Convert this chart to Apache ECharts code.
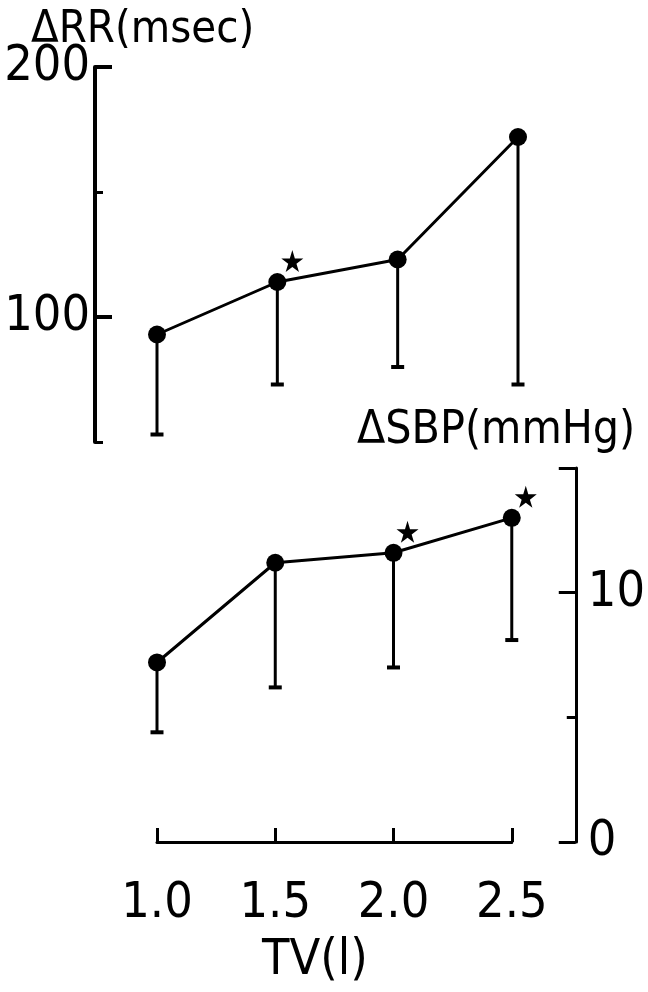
<!DOCTYPE html>
<html>
<head>
<meta charset="utf-8">
<script src="https://cdn.jsdelivr.net/npm/echarts@6/dist/echarts.min.js"></script>
<style>
  html, body { margin: 0; padding: 0; background: #fff; }
  #chart { width: 648px; height: 992px; }
</style>
</head>
<body>
<div id="chart"></div>
<script>
// Tidal volume steps (litres)
var tidalVolume = [1.0, 1.5, 2.0, 2.5];
var tvTickLabels = ['1.0', '1.5', '2.0', '2.5'];

// ΔRR interval (msec): mean and lower end of the error bar
var rrMean = [93, 114, 123, 172];
var rrLower = [53, 73, 80, 73];
var rrSignificant = [false, true, false, false];

// ΔSBP (mmHg): mean and lower end of the error bar
var sbpMean = [7.2, 11.2, 11.6, 13.0];
var sbpLower = [4.4, 6.2, 7.0, 8.1];
var sbpSignificant = [false, false, true, true];

// Axis tick values
var rrLabelTicks = [100, 200];
var rrMinorTicks = [50, 150];
var sbpLabelTicks = [0, 10];
var sbpMajorTicks = [0, 10, 15];
var sbpMinorTicks = [5];

var INK = '#000';
var FONT = '"Liberation Sans Narrow", "DejaVu Sans Condensed", "Liberation Sans", sans-serif';

function pairs(xs, ys) {
  return xs.map(function (x, i) { return [x, ys[i]]; });
}
function triples(xs, a, b) {
  return xs.map(function (x, i) { return [x, a[i], b[i]]; });
}
function flagged(xs, ys, flags) {
  var out = [];
  xs.forEach(function (x, i) { if (flags[i]) out.push([x, ys[i]]); });
  return out;
}

// One-sided (downward) error bar with a short cap
function renderErrorBar(params, api) {
  var top = api.coord([api.value(0), api.value(1)]);
  var bottom = api.coord([api.value(0), api.value(2)]);
  var half = 6.5;
  return {
    type: 'group',
    children: [
      { type: 'line', shape: { x1: top[0], y1: top[1], x2: bottom[0], y2: bottom[1] }, style: { stroke: INK, lineWidth: 3 } },
      { type: 'line', shape: { x1: bottom[0] - half, y1: bottom[1], x2: bottom[0] + half, y2: bottom[1] }, style: { stroke: INK, lineWidth: 4 } }
    ]
  };
}

var STAR = 'path://M50,0 L61,35 L98,35 L68,57 L79,91 L50,70 L21,91 L32,57 L2,35 L39,35 Z';

var labelStyle = { color: INK, fontSize: 50, fontFamily: FONT };

var option = {
  backgroundColor: '#fff',
  animation: false,
  grid: [
    { left: 157, right: 130, top: 67, bottom: 550 },
    { left: 157, right: 130, top: 468, bottom: 150 }
  ],
  xAxis: [
    { type: 'value', gridIndex: 0, min: 1.0, max: 2.5, interval: 0.5, show: false },
    {
      type: 'value', gridIndex: 1, min: 1.0, max: 2.5, interval: 0.5,
      position: 'bottom', offset: 31,
      axisLine: { show: true, lineStyle: { color: INK, width: 3 } },
      axisTick: { show: true, inside: true, length: 14, lineStyle: { color: INK, width: 3 } },
      axisLabel: Object.assign({
        margin: 6,
        formatter: function (v) {
          var i = tidalVolume.indexOf(v);
          return i >= 0 ? tvTickLabels[i] : '';
        }
      }, labelStyle),
      splitLine: { show: false }
    }
  ],
  yAxis: [
    {
      type: 'value', gridIndex: 0, position: 'left', offset: 62,
      min: 50, max: 200, interval: 50,
      axisLine: { show: true, lineStyle: { color: INK, width: 4 } },
      axisTick: { show: true, inside: true, length: 17, customValues: rrLabelTicks, lineStyle: { color: INK, width: 4 } },
      axisLabel: Object.assign({ margin: 5, customValues: rrLabelTicks }, labelStyle),
      splitLine: { show: false }
    },
    {
      type: 'value', gridIndex: 0, position: 'left', offset: 62,
      min: 50, max: 200, interval: 50,
      axisLine: { show: false },
      axisTick: { show: true, inside: true, length: 8, customValues: rrMinorTicks, lineStyle: { color: INK, width: 3 } },
      axisLabel: { show: false },
      splitLine: { show: false }
    },
    {
      type: 'value', gridIndex: 1, position: 'right', offset: 64,
      min: 0, max: 15, interval: 5,
      axisLine: { show: true, lineStyle: { color: INK, width: 3 } },
      axisTick: { show: true, inside: true, length: 17, customValues: sbpMajorTicks, lineStyle: { color: INK, width: 3 } },
      axisLabel: Object.assign({ margin: 12, customValues: sbpLabelTicks }, labelStyle),
      splitLine: { show: false }
    },
    {
      type: 'value', gridIndex: 1, position: 'right', offset: 64,
      min: 0, max: 15, interval: 5,
      axisLine: { show: false },
      axisTick: { show: true, inside: true, length: 9, customValues: sbpMinorTicks, lineStyle: { color: INK, width: 3 } },
      axisLabel: { show: false },
      splitLine: { show: false }
    }
  ],
  graphic: [
    { type: 'text', left: 31, top: 8, style: { text: 'ΔRR(msec)', fill: INK, font: '45px ' + FONT } },
    { type: 'text', left: 357, top: 408, style: { text: 'ΔSBP(mmHg)', fill: INK, font: '46px ' + FONT } },
    { type: 'text', left: 262, top: 936, style: { text: 'TV(l)', fill: INK, font: '50px ' + FONT } }
  ],
  series: [
    {
      type: 'custom', xAxisIndex: 0, yAxisIndex: 0, clip: false, z: 2,
      renderItem: renderErrorBar,
      data: triples(tidalVolume, rrMean, rrLower)
    },
    {
      type: 'line', xAxisIndex: 0, yAxisIndex: 0, clip: false, z: 3,
      symbol: 'circle', symbolSize: 18,
      lineStyle: { color: INK, width: 3 },
      itemStyle: { color: INK },
      data: pairs(tidalVolume, rrMean)
    },
    {
      type: 'scatter', xAxisIndex: 0, yAxisIndex: 0, clip: false, z: 4,
      symbol: STAR, symbolSize: 22, symbolOffset: [15, -21],
      itemStyle: { color: INK, opacity: 1 },
      data: flagged(tidalVolume, rrMean, rrSignificant)
    },
    {
      type: 'custom', xAxisIndex: 1, yAxisIndex: 2, clip: false, z: 2,
      renderItem: renderErrorBar,
      data: triples(tidalVolume, sbpMean, sbpLower)
    },
    {
      type: 'line', xAxisIndex: 1, yAxisIndex: 2, clip: false, z: 3,
      symbol: 'circle', symbolSize: 18,
      lineStyle: { color: INK, width: 3 },
      itemStyle: { color: INK },
      data: pairs(tidalVolume, sbpMean)
    },
    {
      type: 'scatter', xAxisIndex: 1, yAxisIndex: 2, clip: false, z: 4,
      symbol: STAR, symbolSize: 22, symbolOffset: [14, -21],
      itemStyle: { color: INK, opacity: 1 },
      data: flagged(tidalVolume, sbpMean, sbpSignificant)
    }
  ]
};

var chart = echarts.init(document.getElementById('chart'), null, { renderer: 'canvas' });
chart.setOption(option);
</script>
</body>
</html>
